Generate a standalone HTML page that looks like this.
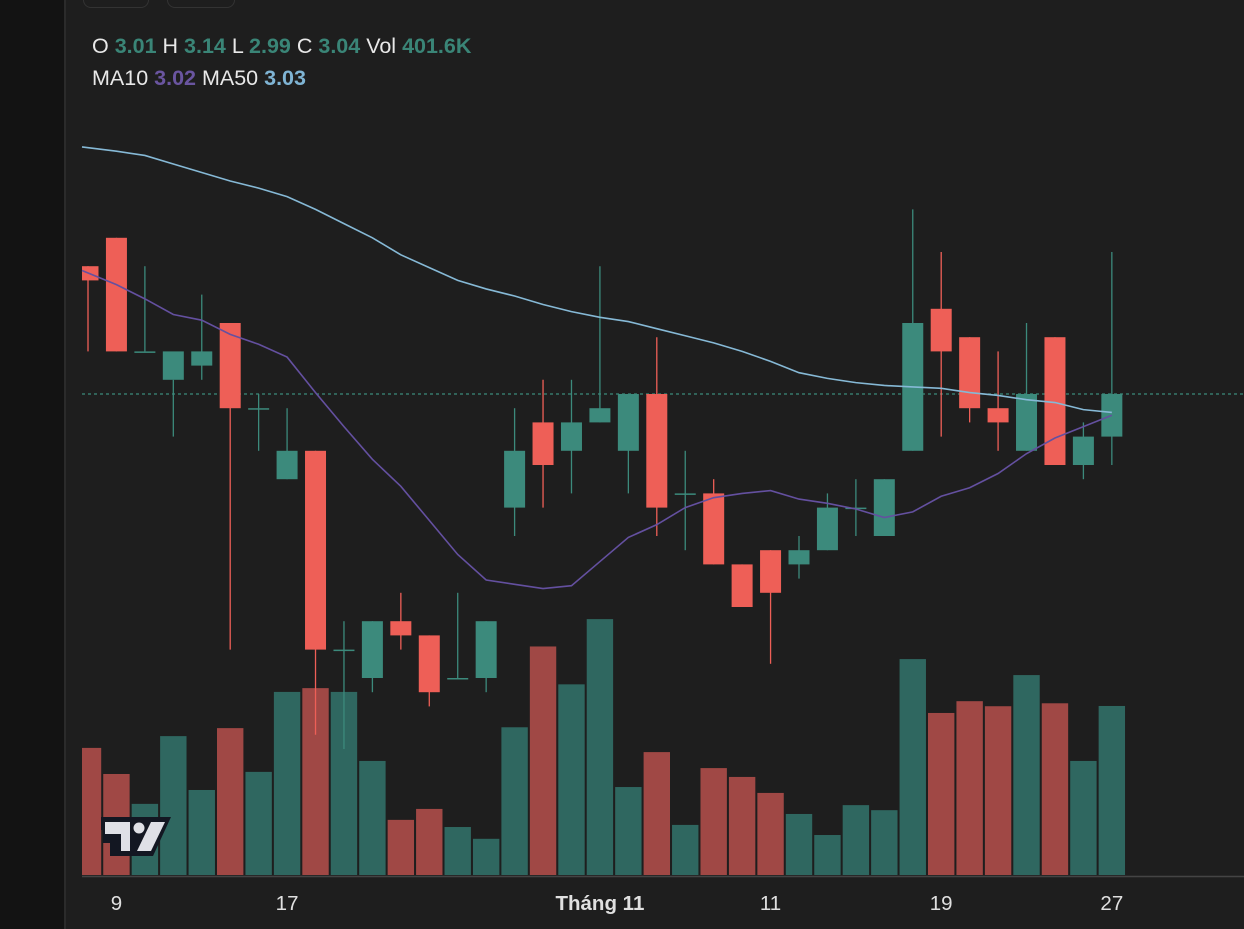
<!DOCTYPE html>
<html><head><meta charset="utf-8"><style>
html,body{margin:0;padding:0;background:#1e1e1e;width:1244px;height:929px;overflow:hidden;font-family:"Liberation Sans",sans-serif}
#left{position:absolute;left:0;top:0;width:64px;height:929px;background:#131313;border-right:2px solid #2b2b2b}
.btn{position:absolute;top:-12px;height:18px;border:1.5px solid #333;border-radius:8px}
.leg{position:absolute;left:92px;font-size:21.5px;color:#e8e8e8}
.g{color:#3a8577;font-weight:bold}.p{color:#6a55a0;font-weight:bold}.b{color:#7fb4d4;font-weight:bold}
svg{position:absolute;left:0;top:0}
</style></head><body>
<div id="left"></div>
<div class="btn" style="left:83px;width:64px"></div>
<div class="btn" style="left:167px;width:66px"></div>
<div class="leg" style="top:34px">O <span class="g">3.01</span> H <span class="g">3.14</span> L <span class="g">2.99</span> C <span class="g">3.04</span> Vol <span class="g">401.6K</span></div>
<div class="leg" style="top:66px">MA10 <span class="p">3.02</span> MA50 <span class="b">3.03</span></div>
<svg id="chart" width="1244" height="929"></svg>
<script>
const opens=[3.13,3.15,3.07,3.05,3.06,3.09,3.03,2.98,3.00,2.86,2.84,2.88,2.87,2.84,2.84,2.96,3.02,3.00,3.02,3.00,3.04,2.97,2.97,2.92,2.93,2.92,2.93,2.96,2.94,3.00,3.10,3.08,3.03,3.00,3.08,2.99,3.01];
const highs=[3.13,3.15,3.13,3.05,3.11,3.09,3.04,3.03,3.00,2.88,2.88,2.90,2.87,2.90,2.88,3.03,3.05,3.05,3.13,3.04,3.08,3.00,2.98,2.92,2.93,2.94,2.97,2.98,2.98,3.17,3.14,3.08,3.07,3.09,3.08,3.02,3.14];
const lows=[3.07,3.07,3.07,3.01,3.05,2.86,3.00,2.98,2.80,2.79,2.83,2.86,2.82,2.84,2.83,2.94,2.96,2.97,3.02,2.97,2.94,2.93,2.92,2.89,2.85,2.91,2.93,2.94,2.94,3.00,3.01,3.02,3.00,3.00,2.99,2.98,2.99];
const closes=[3.12,3.07,3.07,3.07,3.07,3.03,3.03,3.00,2.86,2.86,2.88,2.87,2.83,2.84,2.88,3.00,2.99,3.02,3.03,3.04,2.96,2.97,2.92,2.89,2.90,2.93,2.96,2.96,2.98,3.09,3.07,3.03,3.02,3.04,2.99,3.01,3.04];
const rising=[0,0,1,1,1,0,1,1,0,1,1,0,0,1,1,1,0,1,1,1,0,1,0,0,0,1,1,1,1,1,0,0,0,1,0,1,1];
const volumes=[302,240,169,330,202,349,245,435,444,435,271,131,157,114,86,351,543,453,608,209,292,119,254,233,195,145,95,166,154,513,385,413,401,475,408,271,401.6];
const ma10=[3.127,3.117,3.107,3.096,3.092,3.082,3.075,3.066,3.041,3.017,2.994,2.975,2.951,2.927,2.909,2.906,2.903,2.905,2.922,2.939,2.948,2.960,2.967,2.970,2.972,2.966,2.963,2.959,2.953,2.957,2.968,2.974,2.984,2.998,3.009,3.017,3.025];
const ma50=[3.214,3.211,3.208,3.202,3.196,3.190,3.185,3.179,3.170,3.160,3.150,3.138,3.129,3.120,3.114,3.109,3.103,3.098,3.094,3.091,3.086,3.081,3.076,3.070,3.063,3.055,3.051,3.048,3.046,3.045,3.044,3.041,3.039,3.036,3.034,3.029,3.027];
const tickIdx=[1,7,18,24,30,36];
const tickLabels=["9","17","Tháng 11","11","19","27"];
const lastPrice=3.04;

const svg=document.getElementById('chart');const NS='http://www.w3.org/2000/svg';
const X=i=>88+i*28.44;
const Y=p=>394-(p-3.04)*1420;
const VY=v=>875-v/2.376;
function mk(t,a){const e=document.createElementNS(NS,t);for(const k in a)e.setAttribute(k,a[k]);svg.appendChild(e);return e;}
const clip=mk('clipPath',{id:'cp'});const cr=document.createElementNS(NS,'rect');cr.setAttribute('x',82);cr.setAttribute('y',0);cr.setAttribute('width',1162);cr.setAttribute('height',876);clip.appendChild(cr);
const GC='#3c8a7c',RC='#ee5f57',GV='#2f6760',RV='#a04845';
volumes.forEach((v,i)=>{const r=mk('rect',{x:X(i)-13.2,y:VY(v),width:26.4,height:875-VY(v),fill:rising[i]?GV:RV,'clip-path':'url(#cp)'});

});
const ax=mk('line',{x1:82,x2:1244,y1:876.5,y2:876.5,stroke:'#444','stroke-width':1.5});


const pl=mk('line',{x1:82,x2:1244,y1:Y(lastPrice),y2:Y(lastPrice),stroke:'#3c8a7c','stroke-dasharray':'3 3','stroke-width':1.2});


opens.forEach((o,i)=>{const c=rising[i]?GC:RC;const x=X(i);
const w=mk('line',{x1:x,x2:x,y1:Y(highs[i]),y2:Y(lows[i]),stroke:c,'stroke-width':1.3,'clip-path':'url(#cp)'});


const t=Math.min(Y(o),Y(closes[i])),h=Math.max(1.5,Math.abs(Y(o)-Y(closes[i])));
const b=mk('rect',{x:x-10.5,y:t,width:21,height:h,fill:c,'clip-path':'url(#cp)'});

});
function line(arr,col,name){const d=arr.map((p,i)=>(i?'L':'M')+(i?X(i):82)+','+Y(p)).join('');
const e=mk('path',{d:d,fill:'none',stroke:col,'stroke-width':1.6});

}
line(ma50,'#86b9d6','ma50-line');line(ma10,'#6450a0','ma10-line');
tickIdx.forEach((ix,k)=>{const t=mk('text',{x:X(ix),y:910,fill:'#e0e0e0','font-size':20.5,'text-anchor':'middle','font-family':'Liberation Sans, sans-serif','font-weight':tickLabels[k].length>3?'bold':'normal'});t.textContent=tickLabels[k];

});
const logo=mk('g',{});


logo.innerHTML='<path d="M101 817h70l-18 39h-43v-13h-7v-13h-2z" fill="#131722"/><path d="M105 822h25v29h-9v-17h-16z" fill="#dfe0e6"/><circle cx="139" cy="828" r="5.5" fill="#dfe0e6"/><path d="M151 822h14l-14 29h-14z" fill="#dfe0e6"/>';
svg.appendChild(logo);
</script>
</body></html>
